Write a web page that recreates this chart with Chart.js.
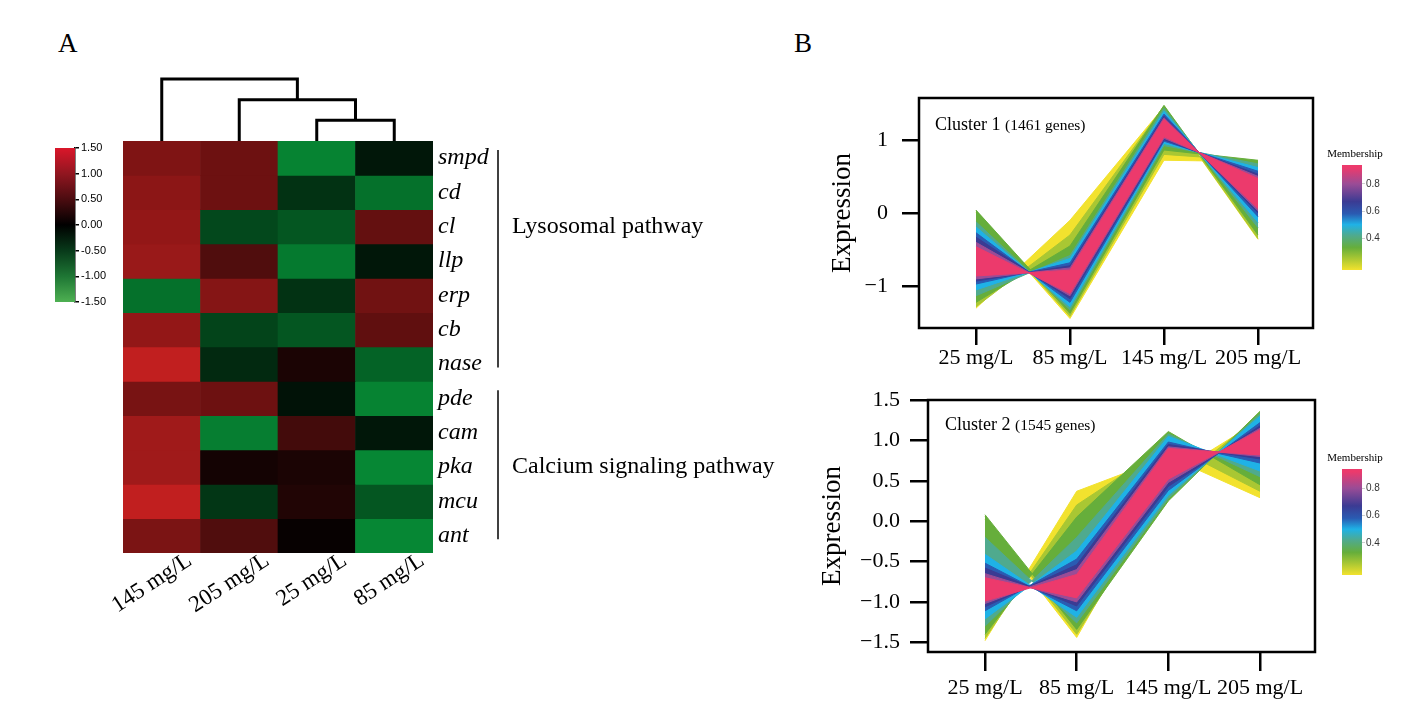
<!DOCTYPE html>
<html>
<head>
<meta charset="utf-8">
<title>Heatmap and expression clusters</title>
<script src="https://cdn.jsdelivr.net/npm/chart.js@4.4.1/dist/chart.umd.min.js"></script>
<style>
  html, body { margin:0; padding:0; background:#ffffff; }
  #stage { position:relative; width:1417px; height:728px; overflow:hidden; background:#ffffff; }
  #stage canvas { position:absolute; }
  .letter { position:absolute; font-family:"Liberation Serif","Times New Roman",serif; font-size:27px; line-height:1; color:#000; }
</style>
</head>
<body>
<div id="stage">
  <div class="letter" style="left:58px;top:30px;">A</div>
  <div class="letter" style="left:794px;top:30px;">B</div>
  <canvas id="heat" width="780" height="520" style="left:20px;top:130px;"></canvas>
  <canvas id="dendro" width="780" height="81" style="left:20px;top:60px;"></canvas>
  <canvas id="heatLegend" width="90" height="180" style="left:40px;top:135px;"></canvas>
  <canvas id="cluster1" width="500" height="300" style="left:820px;top:88px;"></canvas>
  <canvas id="member1" width="80" height="140" style="left:1320px;top:140px;"></canvas>
  <canvas id="cluster2" width="515" height="320" style="left:805px;top:390px;"></canvas>
  <canvas id="member2" width="80" height="141" style="left:1320px;top:444px;"></canvas>
</div>
<script>
// ---------------- Panel A data ----------------
const heatColumns = ['145 mg/L', '205 mg/L', '25 mg/L', '85 mg/L'];
const genes = ['smpd', 'cd', 'cl', 'llp', 'erp', 'cb', 'nase', 'pde', 'cam', 'pka', 'mcu', 'ant'];
const heatValues = [
  [0.95, 0.82, -1.45, -0.25],
  [1.05, 0.82, -0.55, -1.25],
  [1.10, -0.80, -0.95, 0.75],
  [1.15, 0.60, -1.35, -0.25],
  [-1.25, 1.00, -0.55, 0.85],
  [1.10, -0.75, -0.95, 0.72],
  [1.45, -0.45, 0.20, -1.10],
  [0.90, 0.82, -0.20, -1.45],
  [1.20, -1.40, 0.50, -0.25],
  [1.20, 0.15, 0.20, -1.50],
  [1.45, -0.60, 0.25, -0.95],
  [0.92, 0.60, 0.05, -1.50]
];
// dendrogram merges: [node a, node b, height]; nodes 0-3 are columns, 4+ are earlier merges
const dendroMerges = [[2, 3, 1], [1, 4, 2], [0, 5, 3]];
const pathwayNames = ['Lysosomal pathway', 'Calcium signaling pathway'];
const pathwayFirstRow = [0, 7];
const pathwayLastRow = [6, 11];
const pathwayTextRow = [2, 9];
const heatLegendTicks = [-1.5, -1, -0.5, 0, 0.5, 1, 1.5];

// ---------------- Panel B data ----------------
const concLabels = ['25 mg/L', '85 mg/L', '145 mg/L', '205 mg/L'];
const memberLevels = [0.16, 0.25, 0.33, 0.42, 0.50, 0.58, 0.67, 0.80, 0.92];
const memberTicks = [0.4, 0.6, 0.8];
const memberRange = [0.165, 0.94];
// band edges per membership level (outer -> inner), values at 25/85/145/205 mg/L
const c1Top = [
  [0.01, -0.10, 1.45, 0.70],
  [0.03, -0.30, 1.46, 0.71],
  [0.04, -0.45, 1.47, 0.72],
  [-0.12, -0.58, 1.43, 0.67],
  [-0.19, -0.62, 1.39, 0.62],
  [-0.27, -0.68, 1.35, 0.57],
  [-0.33, -0.72, 1.32, 0.53],
  [-0.40, -0.75, 1.30, 0.50],
  [-0.46, -0.78, 1.28, 0.47]
];
const c1Bottom = [
  [-1.30, -1.44, 0.72, -0.36],
  [-1.28, -1.41, 0.80, -0.35],
  [-1.22, -1.37, 0.86, -0.30],
  [-1.13, -1.32, 0.92, -0.20],
  [-1.05, -1.28, 0.95, -0.13],
  [-0.97, -1.22, 0.98, -0.05],
  [-0.93, -1.17, 1.00, 0.00],
  [-0.90, -1.13, 1.02, 0.03],
  [-0.86, -1.10, 1.04, 0.06]
];
const c2Top = [
  [0.02, 0.37, 0.80, 1.25],
  [0.06, 0.20, 0.95, 1.31],
  [0.08, 0.05, 1.11, 1.36],
  [-0.20, -0.20, 1.08, 1.33],
  [-0.41, -0.37, 1.05, 1.30],
  [-0.52, -0.47, 0.98, 1.22],
  [-0.58, -0.54, 0.95, 1.18],
  [-0.65, -0.60, 0.92, 1.15],
  [-0.70, -0.66, 0.90, 1.13]
];
const c2Bottom = [
  [-1.48, -1.44, 0.55, 0.29],
  [-1.45, -1.40, 0.40, 0.37],
  [-1.40, -1.34, 0.25, 0.45],
  [-1.30, -1.26, 0.28, 0.55],
  [-1.21, -1.19, 0.32, 0.62],
  [-1.11, -1.11, 0.38, 0.72],
  [-1.06, -1.05, 0.43, 0.77],
  [-1.02, -1.00, 0.48, 0.80],
  [-0.99, -0.95, 0.52, 0.82]
];
const c1Ticks = [-1, 0, 1];
const c2Ticks = [-1.5, -1, -0.5, 0, 0.5, 1, 1.5];

// ---------------- styles ----------------
const SERIF = '"Liberation Serif","Times New Roman",serif';
const SANS = '"Liberation Sans",Arial,sans-serif';
const memberColors = ['#F2E22E', '#A9C733', '#66AE3B', '#4FAA8E', '#1FB2E6', '#2A5BB2', '#3B3B93', '#9A4C96', '#EC3A6C'];
const heatLegendColors = ['rgb(78,176,82)', 'rgb(30,118,52)', 'rgb(8,58,26)', 'rgb(0,0,0)', 'rgb(75,12,16)', 'rgb(145,22,32)', 'rgb(218,22,42)'];
const edgePattern = [1, 0, 0, 1]; // profile A follows the top edge where 1

function heatColor(v) {
  const t = Math.min(Math.abs(v) / 1.5, 1);
  if (v >= 0) return 'rgb(' + Math.round(200 * t) + ',' + Math.round(32 * t) + ',' + Math.round(32 * t) + ')';
  return 'rgb(' + Math.round(6 * t) + ',' + Math.round(135 * t) + ',' + Math.round(52 * t) + ')';
}
function minusFmt(v, digits) {
  const s = Math.abs(v).toFixed(digits);
  return v < 0 ? '\u2212' + s : s;
}
const noInteraction = { responsive: false, animation: false, events: [] };

// ---------------- Heatmap ----------------
const pathwayPlugin = {
  id: 'pathways',
  afterDraw(chart) {
    const c = chart.ctx, a = chart.chartArea, y = chart.scales.y;
    c.save();
    c.strokeStyle = '#000';
    c.lineWidth = 1.5;
    c.fillStyle = '#000';
    c.font = '24px ' + SERIF;
    c.textBaseline = 'middle';
    pathwayNames.forEach((name, i) => {
      const x = a.right + 65;
      const y0 = y.getPixelForValue(pathwayFirstRow[i] + 0.26);
      const y1 = y.getPixelForValue(pathwayLastRow[i] + 0.6);
      c.beginPath(); c.moveTo(x, y0); c.lineTo(x, y1); c.stroke();
      c.fillText(name, a.right + 79, y.getPixelForValue(pathwayTextRow[i] + 0.5));
    });
    c.restore();
  }
};

new Chart(document.getElementById('heat'), {
  type: 'bar',
  data: {
    labels: heatColumns,
    datasets: genes.map((g, r) => ({
      label: g,
      data: heatColumns.map(() => [r, r + 1]),
      backgroundColor: heatValues[r].map(heatColor),
      borderColor: heatValues[r].map(heatColor),
      borderWidth: 0,
      grouped: false,
      barPercentage: 1,
      categoryPercentage: 1
    }))
  },
  options: Object.assign({}, noInteraction, {
    layout: { padding: { left: 103, top: 11, right: 0, bottom: 0 } },
    plugins: { legend: { display: false }, tooltip: { enabled: false } },
    scales: {
      x: {
        grid: { display: false }, border: { display: false },
        ticks: { font: { family: SERIF, size: 23 }, color: '#000', minRotation: 33, maxRotation: 33, padding: -14, labelOffset: 28, autoSkip: false },
        afterFit: (s) => { s.height = 97; s.paddingLeft = 0; s.paddingRight = 0; }
      },
      y: {
        position: 'right', min: 0, max: genes.length, reverse: true,
        grid: { display: false }, border: { display: false },
        afterBuildTicks: (s) => { s.ticks = genes.map((g, i) => ({ value: i + 0.5 })); },
        ticks: { callback: (v) => genes[Math.floor(v)], font: { family: SERIF, size: 24, style: 'italic' }, color: '#000', padding: -3, autoSkip: false },
        afterFit: (s) => { s.width = 367; s.paddingTop = 0; s.paddingBottom = 0; }
      }
    }
  }),
  plugins: [pathwayPlugin]
});

// ---------------- Dendrogram ----------------
const nodeX = heatColumns.map((c, i) => i + 0.5);
const nodeH = heatColumns.map(() => 0);
const dendroSets = dendroMerges.map(([a, b, h]) => {
  const pts = [
    { x: nodeX[a], y: nodeH[a] }, { x: nodeX[a], y: h },
    { x: nodeX[b], y: h }, { x: nodeX[b], y: nodeH[b] }
  ];
  nodeX.push((nodeX[a] + nodeX[b]) / 2);
  nodeH.push(h);
  return { data: pts, showLine: true, borderColor: '#000', borderWidth: 3, pointRadius: 0, fill: false, clip: false, tension: 0 };
});
new Chart(document.getElementById('dendro'), {
  type: 'scatter',
  data: { datasets: dendroSets },
  options: Object.assign({}, noInteraction, {
    layout: { padding: { left: 103, right: 367, top: 19, bottom: 0 } },
    plugins: { legend: { display: false }, tooltip: { enabled: false } },
    scales: {
      x: { type: 'linear', display: false, min: 0, max: heatColumns.length },
      y: { type: 'linear', display: false, min: 0, max: 3 }
    }
  })
});

// ---------------- Heat legend ----------------
new Chart(document.getElementById('heatLegend'), {
  type: 'bar',
  data: {
    labels: [''],
    datasets: [{
      data: [[heatLegendTicks[0], heatLegendTicks[heatLegendTicks.length - 1]]],
      backgroundColor: (ctx) => {
        const ch = ctx.chart, a = ch.chartArea;
        if (!a) return '#000';
        const g = ch.ctx.createLinearGradient(0, a.bottom, 0, a.top);
        heatLegendTicks.forEach((v, i) => g.addColorStop((v + 1.5) / 3, heatLegendColors[i]));
        return g;
      },
      borderWidth: 0, barPercentage: 1, categoryPercentage: 1
    }]
  },
  options: Object.assign({}, noInteraction, {
    layout: { padding: { left: 15, top: 13, bottom: 13, right: 0 } },
    plugins: { legend: { display: false }, tooltip: { enabled: false } },
    scales: {
      x: { display: false },
      y: {
        position: 'right', min: -1.5, max: 1.5,
        afterBuildTicks: (s) => { s.ticks = heatLegendTicks.map((v) => ({ value: v })); },
        ticks: { callback: (v) => v.toFixed(2), font: { family: SANS, size: 11 }, color: '#000', padding: 2 },
        grid: { drawOnChartArea: false, drawTicks: true, tickLength: 4, color: '#000', lineWidth: 1.5 },
        border: { display: true, color: '#000', width: 1.5 },
        afterFit: (s) => { s.width = 55; s.paddingTop = 0; s.paddingBottom = 0; }
      }
    }
  })
});

// ---------------- Cluster panels ----------------
function bandSets(topArr, botArr) {
  const sets = [];
  for (let k = memberLevels.length - 1; k >= 0; k--) {
    const A = concLabels.map((c, i) => ({ x: i + 1, y: edgePattern[i] ? topArr[k][i] : botArr[k][i] }));
    const B = concLabels.map((c, i) => ({ x: i + 1, y: edgePattern[i] ? botArr[k][i] : topArr[k][i] }));
    sets.push({ data: A, borderColor: memberColors[k], borderWidth: 1, pointRadius: 0, fill: false, tension: 0 });
    sets.push({ data: B, borderColor: memberColors[k], borderWidth: 1, pointRadius: 0, fill: '-1', backgroundColor: memberColors[k], tension: 0 });
  }
  return sets;
}

function framePlugin(title, count, dx, dy) {
  return {
    id: 'frame',
    afterDraw(chart) {
      const c = chart.ctx, a = chart.chartArea;
      c.save();
      c.strokeStyle = '#000';
      c.lineWidth = 2.5;
      c.strokeRect(a.left, a.top, a.right - a.left, a.bottom - a.top);
      c.fillStyle = '#000';
      c.textBaseline = 'alphabetic';
      c.font = '18px ' + SERIF;
      c.fillText(title, a.left + dx, a.top + dy);
      const w = c.measureText(title + ' ').width;
      c.font = '15.5px ' + SERIF;
      c.fillText(count, a.left + dx + w, a.top + dy);
      c.restore();
    }
  };
}

function makeCluster(id, cfg) {
  return new Chart(document.getElementById(id), {
    type: 'line',
    data: { datasets: bandSets(cfg.top, cfg.bottom) },
    options: Object.assign({}, noInteraction, {
      layout: { padding: { top: 10, right: cfg.padRight, left: 0, bottom: 0 } },
      plugins: { legend: { display: false }, tooltip: { enabled: false } },
      scales: {
        x: {
          type: 'linear', min: cfg.xMin, max: cfg.xMax,
          afterBuildTicks: (s) => { s.ticks = concLabels.map((c, i) => ({ value: i + 1 })); },
          ticks: { callback: (v) => concLabels[v - 1], font: { family: SERIF, size: 22 }, color: '#000', padding: cfg.xPad, maxRotation: 0, autoSkip: false },
          grid: { drawOnChartArea: false, drawTicks: true, tickLength: cfg.xTick, color: '#000', lineWidth: 2.5 },
          border: { display: false },
          afterFit: (s) => { s.height = cfg.xHeight; s.paddingLeft = 0; s.paddingRight = 0; }
        },
        y: {
          type: 'linear', min: cfg.yMin, max: cfg.yMax,
          afterBuildTicks: (s) => { s.ticks = cfg.yTicks.map((v) => ({ value: v })); },
          ticks: { callback: (v) => minusFmt(v, cfg.digits), font: { family: SERIF, size: 22 }, color: '#000', padding: cfg.yPad, autoSkip: false },
          grid: { drawOnChartArea: false, drawTicks: true, tickLength: cfg.yTick, color: '#000', lineWidth: 2.5 },
          border: { display: false },
          title: { display: true, text: 'Expression', font: { family: SERIF, size: 27 }, color: '#000', padding: { top: cfg.titlePad, bottom: 0 } },
          afterFit: (s) => { s.width = cfg.yWidth; s.paddingTop = 0; s.paddingBottom = 0; }
        }
      }
    }),
    plugins: [framePlugin(cfg.title, cfg.count, cfg.tx, cfg.ty)]
  });
}

makeCluster('cluster1', {
  top: c1Top, bottom: c1Bottom, xMin: 0.394, xMax: 4.585, yMin: -1.57, yMax: 1.57,
  yTicks: c1Ticks, digits: 0, padRight: 7, xHeight: 60, yWidth: 99, xTick: 17, yTick: 17,
  xPad: 0, yPad: 14, titlePad: 6.8, title: 'Cluster 1', count: '(1461 genes)', tx: 16, ty: 32
});
makeCluster('cluster2', {
  top: c2Top, bottom: c2Bottom, xMin: 0.378, xMax: 4.6, yMin: -1.62, yMax: 1.5,
  yTicks: c2Ticks, digits: 1, padRight: 5, xHeight: 58, yWidth: 123, xTick: 19, yTick: 18,
  xPad: 4, yPad: 10, titlePad: 11.8, title: 'Cluster 2', count: '(1545 genes)', tx: 17, ty: 30
});

// ---------------- Membership legends ----------------
const memberTitle = {
  id: 'memberTitle',
  afterDraw(chart) {
    const c = chart.ctx, a = chart.chartArea;
    c.save();
    c.fillStyle = '#000';
    c.font = '11px ' + SERIF;
    c.textAlign = 'center';
    c.textBaseline = 'alphabetic';
    c.fillText('Membership', a.left + 13, a.top - 8);
    c.restore();
  }
};
function makeMember(id) {
  return new Chart(document.getElementById(id), {
    type: 'bar',
    data: {
      labels: [''],
      datasets: [{
        data: [[memberRange[0], memberRange[1]]],
        backgroundColor: (ctx) => {
          const ch = ctx.chart, a = ch.chartArea;
          if (!a) return '#000';
          const g = ch.ctx.createLinearGradient(0, a.bottom, 0, a.top);
          memberLevels.forEach((m, i) => {
            const p = Math.max(0, Math.min(1, (m - memberRange[0]) / (memberRange[1] - memberRange[0])));
            g.addColorStop(p, memberColors[i]);
          });
          return g;
        },
        borderWidth: 0, barPercentage: 1, categoryPercentage: 1
      }]
    },
    options: Object.assign({}, noInteraction, {
      layout: { padding: { left: 22, top: 25, bottom: 10, right: 0 } },
      plugins: { legend: { display: false }, tooltip: { enabled: false } },
      scales: {
        x: { display: false },
        y: {
          position: 'right', min: memberRange[0], max: memberRange[1],
          afterBuildTicks: (s) => { s.ticks = memberTicks.map((v) => ({ value: v })); },
          ticks: { callback: (v) => v.toFixed(1), font: { family: SANS, size: 10 }, color: '#333', padding: 1 },
          grid: { drawOnChartArea: false, drawTicks: true, tickLength: 3, color: '#cfcfcf', lineWidth: 1 },
          border: { display: false },
          afterFit: (s) => { s.width = 38; s.paddingTop = 0; s.paddingBottom = 0; }
        }
      }
    }),
    plugins: [memberTitle]
  });
}
makeMember('member1');
makeMember('member2');
</script>
</body>
</html>
